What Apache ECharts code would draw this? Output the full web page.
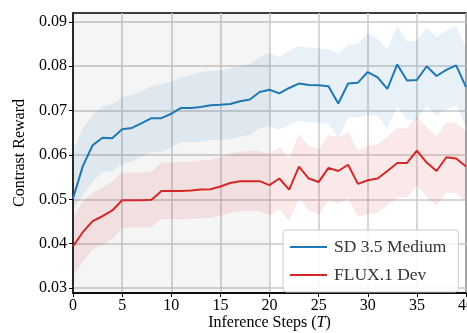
<!DOCTYPE html>
<html>
<head>
<meta charset="utf-8">
<script src="https://cdn.jsdelivr.net/npm/echarts@6/dist/echarts.min.js"></script>
<style>html,body{margin:0;padding:0;background:#fff}#c{width:467px;height:333px}</style>
</head>
<body>
<div id="c"></div>
<script>
const steps = [0,1,2,3,4,5,6,7,8,9,10,11,12,13,14,15,16,17,18,19,20,21,22,23,24,25,26,27,28,29,30,31,32,33,34,35,36,37,38,39,40];
const yTicks = [0.03,0.04,0.05,0.06,0.07,0.08,0.09];
const sdMean = [0.0502,0.0575,0.0622,0.0639,0.0638,0.0658,0.0661,0.0672,0.0683,0.0683,0.0693,0.0706,0.0706,0.0708,0.0712,0.0713,0.0715,0.0721,0.0725,0.0742,0.0747,0.0739,0.0751,0.0761,0.0758,0.0757,0.0755,0.0716,0.0761,0.0763,0.0787,0.0775,0.0749,0.0804,0.0768,0.0769,0.0800,0.0778,0.0792,0.0802,0.0753];
const sdUpper = [0.061,0.066,0.069,0.071,0.0715,0.073,0.0735,0.0745,0.0755,0.076,0.0765,0.0775,0.078,0.0787,0.079,0.079,0.0795,0.080,0.0805,0.082,0.083,0.082,0.0835,0.0845,0.0842,0.084,0.0838,0.0828,0.0848,0.085,0.0875,0.0862,0.0838,0.0892,0.0856,0.0858,0.0888,0.0866,0.088,0.089,0.0842];
const sdLower = [0.0475,0.051,0.054,0.0562,0.0563,0.058,0.0585,0.0596,0.0606,0.0607,0.0617,0.0629,0.0629,0.063,0.0634,0.0634,0.0636,0.0641,0.0645,0.0661,0.0665,0.0657,0.0668,0.0678,0.0674,0.0673,0.067,0.0637,0.0685,0.0685,0.069,0.0688,0.0661,0.0710,0.068,0.068,0.0711,0.0689,0.0702,0.0712,0.0663];
const fluxMean = [0.0394,0.0426,0.0451,0.0462,0.0475,0.0498,0.0498,0.0498,0.0499,0.0519,0.0519,0.0519,0.0520,0.0522,0.0523,0.0529,0.0537,0.0541,0.0541,0.0541,0.0532,0.0547,0.0522,0.0574,0.0547,0.0539,0.0571,0.0564,0.0578,0.0535,0.0543,0.0547,0.0564,0.0582,0.0582,0.0610,0.0583,0.0564,0.0595,0.0592,0.0574];
const fluxUpper = [0.046,0.0495,0.0515,0.0527,0.054,0.056,0.056,0.0561,0.0562,0.0582,0.0583,0.0584,0.0585,0.0588,0.0589,0.0595,0.0603,0.0608,0.0609,0.0609,0.0602,0.0618,0.0594,0.0647,0.062,0.0613,0.0645,0.0639,0.0653,0.061,0.062,0.0624,0.0641,0.066,0.066,0.0688,0.0662,0.0643,0.0674,0.0672,0.0654];
const fluxLower = [0.0325,0.036,0.0387,0.0398,0.041,0.0435,0.0436,0.0436,0.0437,0.0456,0.0456,0.0455,0.0456,0.0457,0.0458,0.0463,0.047,0.0474,0.0474,0.0474,0.0464,0.0477,0.0451,0.0502,0.0475,0.0466,0.0497,0.049,0.0503,0.046,0.0467,0.047,0.0487,0.0504,0.0504,0.0532,0.0505,0.0486,0.0516,0.0513,0.0495];
const shadedRange = [0, 20];

const FONT = '"Liberation Serif", "DejaVu Serif", serif';
const BLUE = '#1f77b4', RED = '#d62728';

function pairs(ys){ return steps.map((x,i)=>[x, ys[i]]); }

function bandSeries(name, upper, lower, color){
  return {
    name: name, type: 'custom', silent: true, z: 1,
    data: [[0, upper[0]]],
    clip: true,
    renderItem: function(params, api){
      const pts = [];
      for (let i = 0; i < steps.length; i++) pts.push(api.coord([steps[i], upper[i]]));
      for (let i = steps.length - 1; i >= 0; i--) pts.push(api.coord([steps[i], lower[i]]));
      return { type: 'polygon', shape: { points: pts }, style: { fill: color, stroke: null } };
    }
  };
}

const chart = echarts.init(document.getElementById('c'), null, {renderer: 'canvas'});
chart.setOption({
  animation: false,
  backgroundColor: '#fff',
  textStyle: { fontFamily: FONT },
  grid: { left: 73, right: 1, top: 13, bottom: 40, show: true, borderColor: '#000', borderWidth: 1.5, backgroundColor: 'transparent', outerBoundsMode: 'none', containLabel: false },
  xAxis: {
    type: 'value', min: 0, max: 40, interval: 5,
    name: 'Inference Steps ({i|T})', nameLocation: 'middle', nameGap: 22, nameMoveOverlap: false,
    nameTextStyle: { fontFamily: FONT, fontSize: 16, color: '#000', rich: { i: { fontFamily: FONT, fontStyle: 'italic', fontSize: 16, color: '#000' } } },
    axisLine: { show: true, lineStyle: { color: '#000', width: 1.5 } },
    axisTick: { show: true, inside: false, length: 4, lineStyle: { color: '#000', width: 1 } },
    axisLabel: { fontFamily: FONT, fontSize: 16, color: '#000', margin: 5, hideOverlap: false },
    splitLine: { show: true, lineStyle: { color: '#c8c8c8', width: 1.5 } }
  },
  yAxis: {
    type: 'value', min: 0.0289, max: 0.092,
    name: 'Contrast Reward', nameLocation: 'middle', nameGap: 45, nameMoveOverlap: false,
    nameTextStyle: { fontFamily: FONT, fontSize: 16, color: '#000' },
    axisLine: { show: true, lineStyle: { color: '#000', width: 1.5 } },
    axisTick: { show: true, inside: false, length: 4, lineStyle: { color: '#000', width: 1 }, customValues: yTicks },
    axisLabel: { fontFamily: FONT, fontSize: 16, color: '#000', margin: 6, customValues: yTicks, formatter: v => v.toFixed(2) },
    splitLine: { show: true, lineStyle: { color: '#c8c8c8', width: 1.5 } }
  },
  legend: {
    data: ['SD 3.5 Medium', 'FLUX.1 Dev'],
    icon: 'rect',
    orient: 'vertical', left: 283, top: 230,
    itemWidth: 37, itemHeight: 2, itemGap: 10,
    padding: [8, 12, 8, 7],
    backgroundColor: 'rgba(255,255,255,0.85)', borderColor: '#cccccc', borderWidth: 1, borderRadius: 3,
    textStyle: { fontFamily: FONT, fontSize: 17.5, color: '#333', padding: [0,0,0,2] }
  },
  series: [
    bandSeries('sdBand', sdUpper, sdLower, 'rgba(31,119,180,0.10)'),
    bandSeries('fluxBand', fluxUpper, fluxLower, 'rgba(214,39,40,0.10)'),
    {
      name: 'SD 3.5 Medium', type: 'line', data: pairs(sdMean), symbol: 'none', showSymbol: false, z: 3,
      lineStyle: { color: BLUE, width: 2 }, itemStyle: { color: BLUE },
      markArea: { silent: true, itemStyle: { color: 'rgba(0,0,0,0.04)' }, data: [[{ xAxis: shadedRange[0] }, { xAxis: shadedRange[1] }]] }
    },
    {
      name: 'FLUX.1 Dev', type: 'line', data: pairs(fluxMean), symbol: 'none', showSymbol: false, z: 3,
      lineStyle: { color: RED, width: 2 }, itemStyle: { color: RED }
    }
  ]
});
</script>
</body>
</html>
